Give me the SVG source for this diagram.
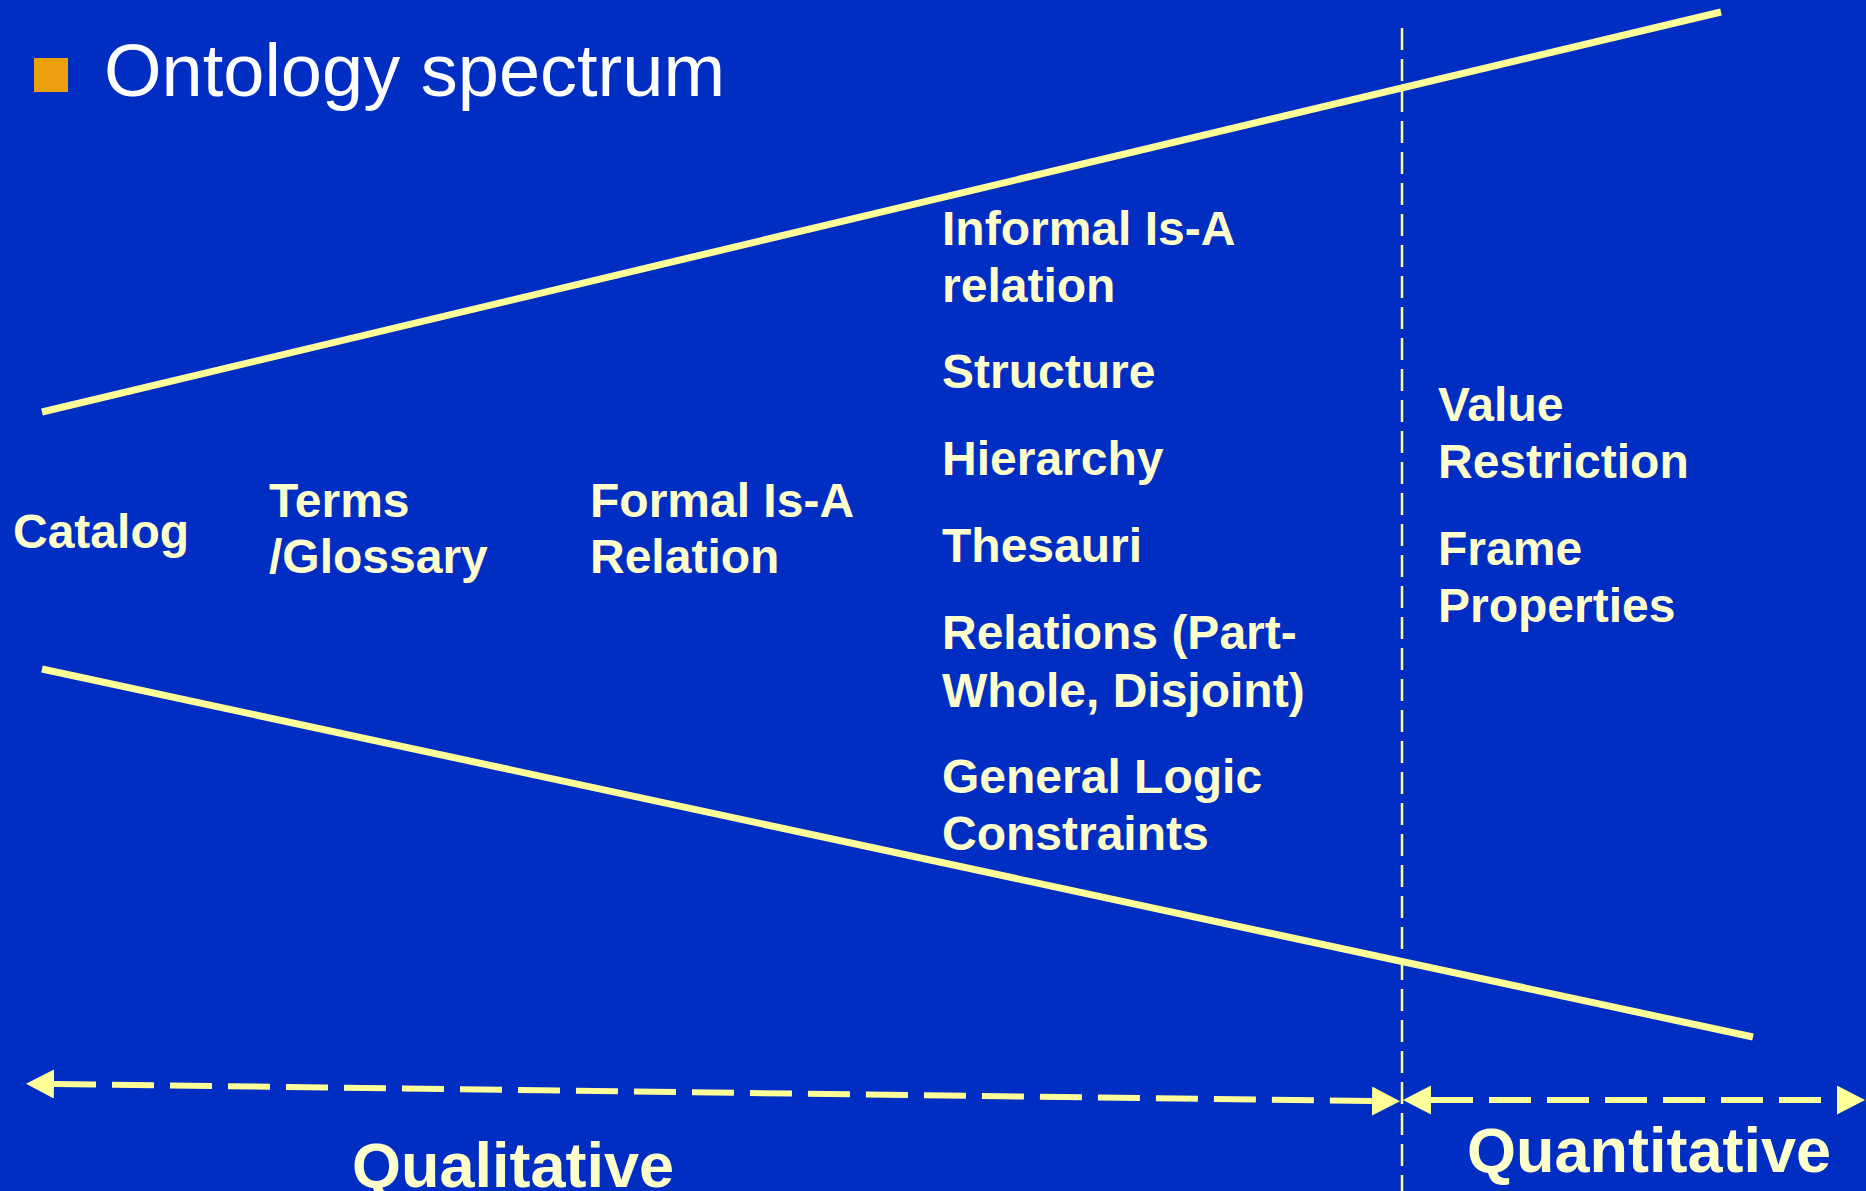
<svg xmlns="http://www.w3.org/2000/svg" width="1866" height="1191" viewBox="0 0 1866 1191">
<style>
.lbl{font-family:"Liberation Sans",Arial,sans-serif;font-weight:bold;font-size:48px;fill:#FFFFCC}
.axis{font-family:"Liberation Sans",Arial,sans-serif;font-weight:bold;font-size:63px;fill:#FFFFCC}
.title{font-family:"Liberation Sans",Arial,sans-serif;font-size:74px;fill:#FFFFFF}
.edge{stroke:#FFFF99;stroke-width:7;fill:none}
.dash{stroke:#FFFF99;stroke-width:6;fill:none;stroke-dasharray:42 16}
.vdash{stroke:#FFFF99;stroke-width:2.5;fill:none;stroke-dasharray:22 9}
</style>
<defs>
<marker id="arrow" markerUnits="userSpaceOnUse" markerWidth="30" markerHeight="30" refX="0" refY="14.5" orient="auto-start-reverse">
<path d="M0,0 L28,14.5 L0,29 Z" fill="#FFFF99"/>
</marker>
</defs>
<rect x="0" y="0" width="1866" height="1191" fill="#002EC2"/>
<g id="title">
<rect x="34" y="58" width="34" height="34" fill="#EBA00E"/>
<text class="title" x="104" y="96">Ontology spectrum</text>
</g>
<g id="connectors">
<line class="edge" x1="42" y1="412" x2="1721" y2="12"/>
<line class="edge" x1="42" y1="669" x2="1753" y2="1037"/>
<line class="vdash" x1="1402" y1="28" x2="1402" y2="1191"/>
<path class="dash" d="M54,1084 L1372,1101" marker-start="url(#arrow)" marker-end="url(#arrow)"/>
<path class="dash" d="M1431,1100 L1837,1100" marker-start="url(#arrow)" marker-end="url(#arrow)"/>
</g>
<g id="catalog"><text class="lbl" x="13" y="548">Catalog</text></g>
<g id="terms"><text class="lbl" x="269" y="517">Terms</text><text class="lbl" x="269" y="573">/Glossary</text></g>
<g id="formal"><text class="lbl" x="590" y="517">Formal Is-A</text><text class="lbl" x="590" y="573">Relation</text></g>
<g id="middle">
<text class="lbl" x="942" y="245">Informal Is-A</text>
<text class="lbl" x="942" y="302">relation</text>
<text class="lbl" x="942" y="388">Structure</text>
<text class="lbl" x="942" y="475">Hierarchy</text>
<text class="lbl" x="942" y="562">Thesauri</text>
<text class="lbl" x="942" y="649">Relations (Part-</text>
<text class="lbl" x="942" y="707">Whole, Disjoint)</text>
<text class="lbl" x="942" y="793">General Logic</text>
<text class="lbl" x="942" y="850">Constraints</text>
</g>
<g id="right">
<text class="lbl" x="1438" y="421">Value</text>
<text class="lbl" x="1438" y="478">Restriction</text>
<text class="lbl" x="1438" y="565">Frame</text>
<text class="lbl" x="1438" y="622">Properties</text>
</g>
<g id="qualitative"><text class="axis" x="352" y="1187">Qualitative</text></g>
<g id="quantitative"><text class="axis" x="1467" y="1172">Quantitative</text></g>
</svg>
